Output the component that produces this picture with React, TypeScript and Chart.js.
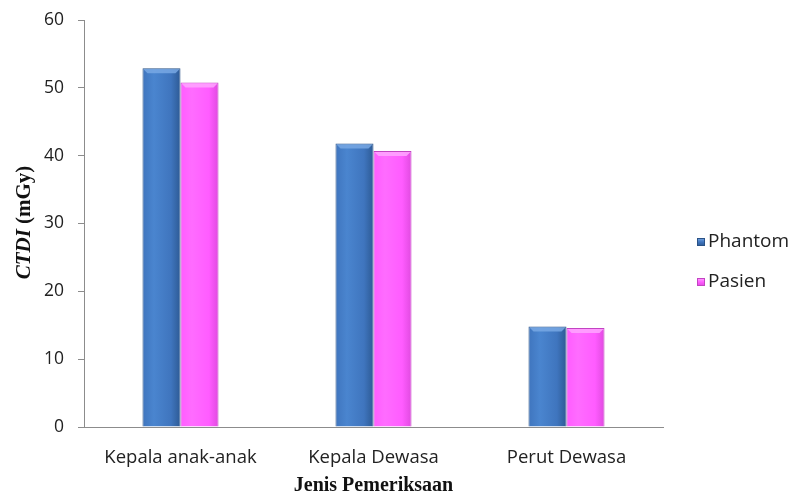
import { useEffect, useRef } from "react";
import { Chart, registerables } from "chart.js";

Chart.register(...registerables);

// Examination types and CTDI values (mGy) for the phantom and patient measurements
const categories = ["Kepala anak-anak", "Kepala Dewasa", "Perut Dewasa"];
const phantomValues = [52.9, 41.8, 14.8];
const pasienValues = [50.8, 40.7, 14.6];
const seriesNames = ["Phantom", "Pasien"];
const yMin = 0;
const yMax = 60;
const yStep = 10;
const xTitle = "Jenis Pemeriksaan";
const yTitleItalic = "CTDI";
const yTitleRest = " (mGy)";

const W = 796;
const H = 495;
const CAT_PCT = 0.394;

type Palette = { light: string; mid: string; dark: string; edge: string; bevel: string };
const palettes: Palette[] = [
  { light: "#4A85CF", mid: "#3F75BE", dark: "#2D5A94", edge: "#2A5286", bevel: "#78A8E4" },
  { light: "#FF6CFF", mid: "#FF5CFF", dark: "#E04AE0", edge: "#C244C2", bevel: "#FFA6FF" },
];

// Horizontal shading across each bar, positioned from the category scale
function barGradient(dsIndex: number) {
  return (ctx: any) => {
    const chart = ctx.chart;
    const xs = chart.scales.x;
    const p = palettes[dsIndex];
    if (!xs || !chart.chartArea || ctx.dataIndex === undefined) return p.mid;
    const center = xs.getPixelForValue(ctx.dataIndex);
    const barW = (xs.width / categories.length) * CAT_PCT / 2;
    const left = dsIndex === 0 ? center - barW : center;
    const g = chart.ctx.createLinearGradient(left, 0, left + barW, 0);
    g.addColorStop(0, p.mid);
    g.addColorStop(0.3, p.light);
    g.addColorStop(0.75, p.mid);
    g.addColorStop(1, p.dark);
    return g;
  };
}

const sansFamily = "'Open Sans', sans-serif";
const serifFamily = "'Liberation Serif', serif";

const decorPlugin = {
  id: "decor",
  afterDatasetsDraw(chart: any) {
    const { ctx } = chart;
    chart.data.datasets.forEach((_: any, di: number) => {
      const meta = chart.getDatasetMeta(di);
      const p = palettes[di];
      meta.data.forEach((el: any) => {
        const x0 = el.x - el.width / 2;
        const x1 = el.x + el.width / 2;
        const y = el.y;
        const d = 4;
        ctx.save();
        ctx.fillStyle = p.bevel;
        ctx.globalAlpha = 0.85;
        ctx.beginPath();
        ctx.moveTo(x0 + 1, y + 1);
        ctx.lineTo(x1 - 1, y + 1);
        ctx.lineTo(x1 - 1 - d, y + 1 + d);
        ctx.lineTo(x0 + 1 + d, y + 1 + d);
        ctx.closePath();
        ctx.fill();
        ctx.restore();
      });
    });
  },
  afterDraw(chart: any) {
    const { ctx, chartArea } = chart;
    ctx.save();
    // y-axis title: italic CTDI followed by the unit
    ctx.fillStyle = "#111";
    ctx.textBaseline = "middle";
    const fItal = `italic bold 21px ${serifFamily}`;
    const fBold = `bold 21px ${serifFamily}`;
    ctx.font = fItal;
    const w1 = ctx.measureText(yTitleItalic).width;
    ctx.font = fBold;
    const w2 = ctx.measureText(yTitleRest).width;
    const cy = (chartArea.top + chartArea.bottom) / 2 - 1;
    ctx.translate(25, cy);
    ctx.rotate(-Math.PI / 2);
    ctx.textAlign = "left";
    ctx.font = fItal;
    ctx.fillText(yTitleItalic, -(w1 + w2) / 2, 0);
    ctx.font = fBold;
    ctx.fillText(yTitleRest, -(w1 + w2) / 2 + w1, 0);
    ctx.restore();

    // x-axis title
    ctx.save();
    ctx.fillStyle = "#111";
    ctx.font = `bold 20px ${serifFamily}`;
    ctx.textAlign = "center";
    ctx.textBaseline = "middle";
    ctx.fillText(xTitle, (chartArea.left + chartArea.right) / 2, 486);
    ctx.restore();

    // legend
    ctx.save();
    const lx = chartArea.right + 34;
    const rows = [242, 282];
    chart.data.datasets.forEach((ds: any, i: number) => {
      const p = palettes[i];
      const cyRow = rows[i];
      const g = ctx.createLinearGradient(0, cyRow - 4, 0, cyRow + 4);
      g.addColorStop(0, p.bevel);
      g.addColorStop(0.5, p.mid);
      g.addColorStop(1, p.dark);
      ctx.fillStyle = g;
      ctx.fillRect(lx, cyRow - 4, 8, 8);
      ctx.strokeStyle = p.edge;
      ctx.lineWidth = 1;
      ctx.strokeRect(lx + 0.5, cyRow - 3.5, 7, 7);
      ctx.fillStyle = "#222";
      ctx.font = `19px ${sansFamily}`;
      ctx.textAlign = "left";
      ctx.textBaseline = "middle";
      ctx.fillText(ds.label, lx + 11, cyRow);
    });
    ctx.restore();
  },
};

export default function App() {
  const ref = useRef<HTMLCanvasElement | null>(null);

  useEffect(() => {
    document.body.style.margin = "0";
    const canvas = ref.current;
    if (!canvas) return;
    const chart = new Chart(canvas, {
      type: "bar",
      data: {
        labels: categories,
        datasets: [
          {
            label: seriesNames[0],
            data: phantomValues,
            backgroundColor: barGradient(0),
            borderColor: palettes[0].edge,
            borderWidth: 1,
            categoryPercentage: CAT_PCT,
            barPercentage: 1,
          },
          {
            label: seriesNames[1],
            data: pasienValues,
            backgroundColor: barGradient(1),
            borderColor: palettes[1].edge,
            borderWidth: 1,
            categoryPercentage: CAT_PCT,
            barPercentage: 1,
          },
        ],
      },
      options: {
        responsive: false,
        animation: false,
        devicePixelRatio: 1,
        layout: { padding: { top: 20, right: 133, left: 0, bottom: 0 } },
        plugins: {
          legend: { display: false },
          tooltip: { enabled: false },
        },
        scales: {
          x: {
            grid: { display: false },
            border: { display: true, color: "#8C8C8C", width: 1 },
            ticks: {
              color: "#222",
              font: { family: sansFamily, size: 18.5 },
              padding: 12,
              maxRotation: 0,
            },
            afterFit(scale: any) {
              scale.height = 68;
            },
          },
          y: {
            min: yMin,
            max: yMax,
            grid: {
              drawOnChartArea: false,
              drawTicks: true,
              tickLength: 6,
              color: "#8C8C8C",
            },
            border: { display: true, color: "#8C8C8C", width: 1 },
            ticks: {
              stepSize: yStep,
              color: "#222",
              font: { family: sansFamily, size: 17.5 },
              padding: 14,
            },
            afterFit(scale: any) {
              scale.width = 84;
              // keep the plot top at the layout padding rather than label overhang
              scale.paddingTop = 0;
              scale.paddingBottom = 0;
            },
          },
        },
      },
      plugins: [decorPlugin],
    });
    return () => chart.destroy();
  }, []);

  return (
    <div style={{ position: "absolute", left: 0, top: 0, width: W, height: H, background: "#fff" }}>
      <canvas ref={ref} width={W} height={H} />
    </div>
  );
}
